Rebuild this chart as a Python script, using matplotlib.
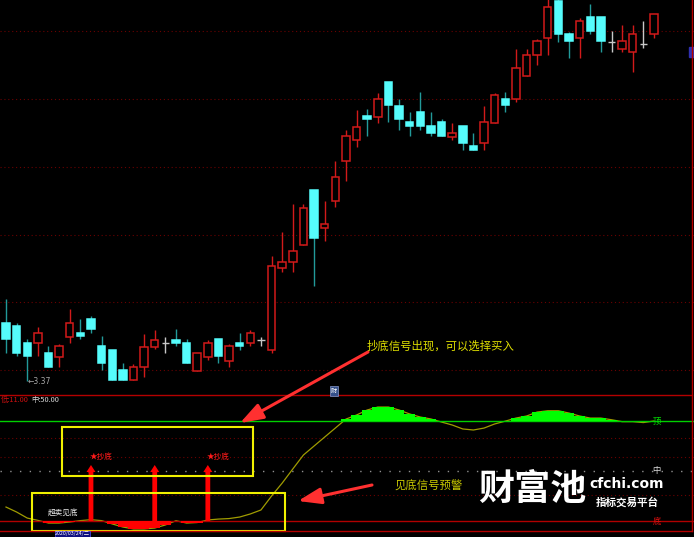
import matplotlib
matplotlib.use('Agg')
import matplotlib.pyplot as plt
import numpy as np
from matplotlib.lines import Line2D
from matplotlib.patches import Rectangle

plt.rcParams['font.family'] = ['Noto Sans CJK SC', 'DejaVu Sans']

# ---------------- data ----------------
opens = [3.95, 3.92, 3.75, 3.75, 3.65, 3.61, 3.81, 3.85, 3.99, 3.72,
         3.68, 3.48, 3.38, 3.51, 3.71, 3.75, 3.78, 3.75, 3.47, 3.61,
         3.79, 3.57, 3.75, 3.75, 3.78, 3.68, 4.50, 4.56, 4.73, 5.28,
         4.90, 5.17, 5.57, 5.78, 6.02, 6.01, 6.36, 6.12, 5.96, 6.06,
         5.92, 5.96, 5.81, 5.92, 5.72, 5.75, 5.95, 6.19, 6.19, 6.42,
         6.63, 6.80, 7.17, 6.84, 6.80, 7.01, 7.01, 6.76, 6.69, 6.66,
         6.74, 6.84]
highs = [4.19, 3.95, 3.79, 3.91, 3.72, 3.74, 4.09, 3.99, 4.02, 3.82,
         3.68, 3.55, 3.54, 3.84, 3.88, 3.81, 3.89, 3.79, 3.65, 3.78,
         3.79, 3.74, 3.85, 3.88, 3.81, 4.62, 4.86, 5.14, 5.14, 5.28,
         5.17, 5.57, 5.88, 6.08, 6.09, 6.25, 6.36, 6.19, 6.06, 6.26,
         6.06, 5.99, 5.95, 5.92, 5.85, 6.12, 6.25, 6.26, 6.69, 6.69,
         6.79, 7.20, 7.20, 6.86, 7.00, 7.14, 7.01, 6.87, 6.93, 6.93,
         6.97, 7.04]
lows = [3.65, 3.62, 3.37, 3.62, 3.51, 3.51, 3.75, 3.79, 3.85, 3.48,
        3.38, 3.38, 3.38, 3.41, 3.69, 3.65, 3.72, 3.55, 3.47, 3.58,
        3.55, 3.51, 3.68, 3.72, 3.72, 3.65, 4.46, 4.46, 4.73, 4.32,
        4.77, 5.11, 5.37, 5.71, 5.82, 5.95, 5.96, 5.88, 5.82, 5.88,
        5.82, 5.82, 5.78, 5.68, 5.68, 5.68, 5.95, 6.06, 6.16, 6.42,
        6.53, 6.63, 6.76, 6.60, 6.60, 6.84, 6.66, 6.66, 6.66, 6.46,
        6.70, 6.80]
closes = [3.79, 3.65, 3.62, 3.85, 3.51, 3.72, 3.95, 3.82, 3.89, 3.55,
          3.38, 3.38, 3.51, 3.71, 3.78, 3.75, 3.75, 3.55, 3.65, 3.75,
          3.62, 3.72, 3.72, 3.85, 3.78, 4.52, 4.56, 4.67, 5.10, 4.80,
          4.94, 5.41, 5.82, 5.91, 5.99, 6.19, 6.13, 5.99, 5.92, 5.92,
          5.85, 5.82, 5.85, 5.75, 5.68, 5.96, 6.23, 6.13, 6.50, 6.63,
          6.77, 7.11, 6.84, 6.77, 6.97, 6.87, 6.77, 6.76, 6.77, 6.84,
          6.74, 7.04]
low_price_label = 3.37
low_price_index = 2

indicator = [21.9, 18.0, 13.3, 11.5, 9.4, 9.4, 10.2, 11.3, 12.0, 11.3,
             8.7, 6.3, 4.8, 4.8, 5.5, 7.9, 11.2, 9.4, 9.8, 11.8,
             12.5, 12.9, 14.1, 16.5, 19.6, 30.5, 40.6, 51.6, 62.5, 69.5,
             76.5, 83.5, 90.5, 93.7, 97.6, 99.9, 99.9, 97.6, 94.5, 92.1,
             90.6, 88.2, 85.9, 82.8, 82.0, 83.5, 86.7, 88.9, 91.3, 92.9,
             96.0, 97.0, 97.0, 95.2, 92.9, 91.3, 91.3, 90.0, 88.5, 88.5,
             87.8, 89.0]
top_level, mid_level, bottom_level = 89.0, 50.0, 11.0
signal_idx = [8, 14, 19]
signal_text = ['★抄底', '', '★抄底']
signal_top = 54.7

# ---------------- figure ----------------
W, H = 694, 537
fig = plt.figure(figsize=(W / 100, H / 100), dpi=100, facecolor='black')

def fy(y):
    return 1 - y / H

ax1 = fig.add_axes([0, fy(395), 1, 1 - fy(395)])
ax2 = fig.add_axes([0, fy(531), 1, fy(395) - fy(531)])
ov = fig.add_axes([0, 0, 1, 1])
for a in (ax1, ax2, ov):
    a.set_facecolor('none')
    a.set_axis_off()
ov.set_xlim(0, W)
ov.set_ylim(H, 0)

n = len(opens)
x = np.arange(n)
o = np.array(opens); c = np.array(closes); hi = np.array(highs); lo = np.array(lows)
xlim = (-6 / 10.623, (W - 6) / 10.623)
ax1.set_xlim(*xlim)
ax2.set_xlim(*xlim)
ax1.set_ylim(3.23, 7.18)
ax2.set_ylim(3.2, 109.3)

# main panel grid
for gp in [6.87, 6.19, 5.51, 4.83, 4.16, 3.48]:
    ax1.axhline(gp, color='#6a0000', lw=0.8, ls=(0, (1, 2.5)), zorder=0)

RED = '#d21a1a'
CYAN = '#55fcfc'
TEAL = '#229a9a'
DOJI = '#c8c8c8'
up = c > o
doji = c == o
wick_cols = [DOJI if doji[i] else (RED if up[i] else TEAL) for i in range(n)]
ax1.vlines(x, lo, hi, colors=wick_cols, lw=1.0, zorder=2)
body_bottom = np.minimum(o, c)
body_h = np.abs(c - o)
m = ~doji
face = ['black' if up[i] else CYAN for i in range(n)]
edge = [RED if up[i] else CYAN for i in range(n)]
ax1.bar(x[m], body_h[m], bottom=body_bottom[m], width=0.7,
        color=[face[i] for i in range(n) if m[i]],
        edgecolor=[edge[i] for i in range(n) if m[i]], lw=1.1, zorder=3)
ax1.hlines(o[doji], x[doji] - 0.35, x[doji] + 0.35, colors=DOJI, lw=1.0, zorder=3)

ax1.text(low_price_index + 0.05, low_price_label, '←' + f'{low_price_label:.2f}',
         color='#a8a8a8', fontsize=5.5, va='center', ha='left',
         family=['DejaVu Sans'])

# ---------------- lower panel ----------------
ind = np.array(indicator)
for lv in [75.7, 60.9, 31.3]:
    ax2.axhline(lv, color='#6a0000', lw=0.8, ls=(0, (1, 2.5)), zorder=0)
ax2.axhline(mid_level, color='#909090', lw=1.0, ls=(0, (1, 6)), zorder=0)
ax2.plot(x, ind, color='#a09c00', lw=0.9, zorder=1)
above = ind > top_level
ax2.bar(x[above], ind[above] - top_level, bottom=top_level, width=1.0,
        color='#00ff00', lw=0, zorder=2)
below = ind < bottom_level
ax2.bar(x[below], ind[below] - bottom_level, bottom=bottom_level, width=1.0,
        color='#ff0000', lw=0, zorder=4)
ax2.axhline(top_level, color='#00d000', lw=1.0, zorder=1.5)
ax2.axhline(bottom_level, color='#b00000', lw=1.0, zorder=1.5)

for k, si in enumerate(signal_idx):
    ax2.arrow(si, bottom_level, 0, signal_top - bottom_level, width=0.45,
              head_width=0.85, head_length=5.5, length_includes_head=True,
              color='#ff0000', lw=0, zorder=5)
    if signal_text[k]:
        ax2.text(si - 0.1, signal_top + 6, signal_text[k], color='#ff1a1a',
                 fontsize=5.5, ha='left', va='center', zorder=6)

ax2.text(3.9, 17.0, '超卖见底', color='#e8e8e8', fontsize=5.5, ha='left',
         va='center', zorder=6)

# panel borders
for yy in (395, 531):
    ov.add_line(Line2D([0, 692], [yy, yy], color='#b40000', lw=1.0))
ov.add_line(Line2D([692, 692], [0, 531], color='#b40000', lw=1.0))
ov.add_patch(Rectangle((689, 47), 5, 10, color='#3030b0'))

# header text of lower panel
ov.text(1, 400, '低:11.00', color='#d01010', fontsize=5.3, ha='left', va='center')
ov.text(31, 400, '中:50.00', color='#d8d8d8', fontsize=5.3, ha='left', va='center')
ov.text(334, 391, '财', color='white', fontsize=4.5, ha='center', va='center',
        bbox=dict(facecolor='#35508a', edgecolor='#8899cc', pad=0.4, lw=0.5))

# right side level labels
ov.text(657, 421, '顶', color='#00e000', fontsize=6, ha='center', va='center')
ov.text(656, 470, '中', color='#e0e0e0', fontsize=6, ha='center', va='center')
ov.text(657, 521, '底', color='#e01010', fontsize=6, ha='center', va='center')

# yellow boxes
ov.add_patch(Rectangle((62, 427), 191, 49, fill=False, edgecolor='#f0f000', lw=1.5))
ov.add_patch(Rectangle((32, 493), 253, 38, fill=False, edgecolor='#f0f000', lw=1.5))

# annotation arrows
ov.annotate('', xy=(240, 423), xytext=(368, 352),
            arrowprops=dict(arrowstyle='-|>,head_length=1.0,head_width=0.35',
                            color='#ff3030', lw=2.2, mutation_scale=14,
                            shrinkA=0, shrinkB=0))
ov.annotate('', xy=(298, 501), xytext=(372, 485),
            arrowprops=dict(arrowstyle='-|>,head_length=1.0,head_width=0.35',
                            color='#ff3030', lw=2.2, mutation_scale=14,
                            shrinkA=0, shrinkB=0))
ov.text(367, 346, '抄底信号出现，可以选择买入', color='#e0e000', fontsize=8.2,
        ha='left', va='center')
ov.text(395, 485, '见底信号预警', color='#c8c800', fontsize=8.2,
        ha='left', va='center')

# watermark
ov.text(532, 490, '财富池', color='white', fontsize=26, fontweight='bold',
        ha='center', va='center')
ov.text(627, 484, 'cfchi.com', color='white', fontsize=10, fontweight='bold',
        ha='center', va='center', family=['DejaVu Sans'])
ov.text(627, 502, '指标交易平台', color='white', fontsize=7.6, fontweight='bold',
        ha='center', va='center')

# date tag at bottom
ov.text(55, 536.5, '2020/03/24/二', color='white', fontsize=3.8, ha='left',
        va='bottom',
        bbox=dict(facecolor='#101080', edgecolor='#5050ff', pad=0.3, lw=0.5))

fig.savefig('out.png', dpi=100, facecolor='black')
